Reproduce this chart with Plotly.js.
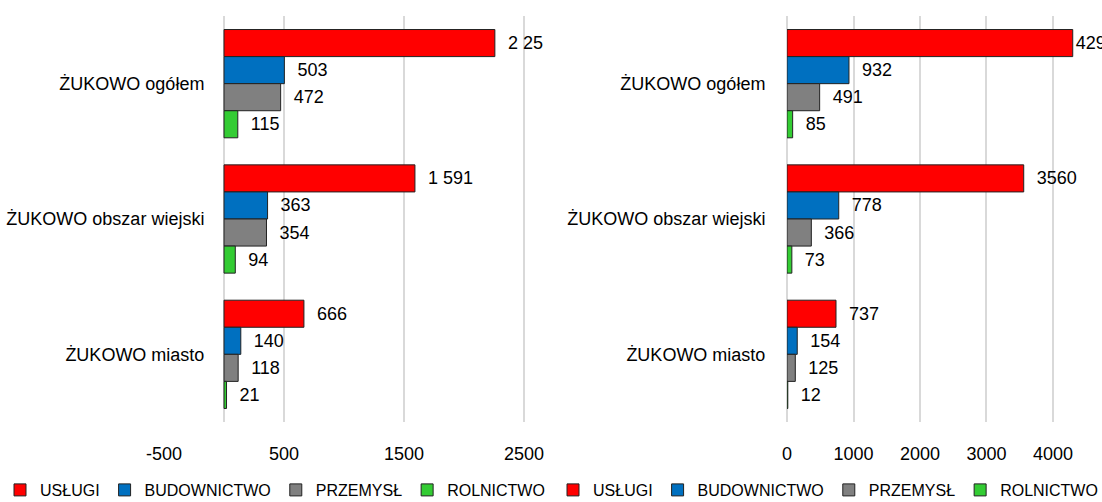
<!DOCTYPE html>
<html>
<head>
<meta charset="utf-8">
<script src="https://cdn.plot.ly/plotly-3.0.1.min.js"></script>
<style>html,body{margin:0;padding:0;background:#fff;}#chart{width:1102px;height:502px;}</style>
</head>
<body>
<div id="chart"></div>
<script>
// ---- data ----
const categories = ['ŻUKOWO ogółem', 'ŻUKOWO obszar wiejski', 'ŻUKOWO miasto'];
const seriesNames = ['USŁUGI', 'BUDOWNICTWO', 'PRZEMYSŁ', 'ROLNICTWO'];
// left chart
const uslugiLeft = [2257, 1591, 666];
const budownictwoLeft = [503, 363, 140];
const przemyslLeft = [472, 354, 118];
const rolnictwoLeft = [115, 94, 21];
// right chart
const uslugiRight = [4297, 3560, 737];
const budownictwoRight = [932, 778, 154];
const przemyslRight = [491, 366, 125];
const rolnictwoRight = [85, 73, 12];
// tick labels
const leftTickVals = [-500, 500, 1500, 2500];
const leftTickText = ['-500', '500', '1500', '2500'];
const rightTickVals = [0, 1000, 2000, 3000, 4000];
const rightTickText = ['0', '1000', '2000', '3000', '4000'];

const colors = ['#FF0000', '#0070C0', '#808080', '#33CC33'];
const FONT = "'Liberation Sans', Arial, sans-serif";
const FS = 18;
const LFS = 16;

const leftData = [uslugiLeft, budownictwoLeft, przemyslLeft, rolnictwoLeft];
const rightData = [uslugiRight, budownictwoRight, przemyslRight, rolnictwoRight];

const PAD = '\u00a0\u00a0';
const traces = [];
leftData.forEach((vals, i) => {
  traces.push({
    type: 'bar', orientation: 'h', name: seriesNames[i],
    x: vals, y: categories, xaxis: 'x', yaxis: 'y',
    marker: {color: colors[i], line: {color: '#222', width: 1}},
    texttemplate: PAD + '%{x:,}', textposition: 'outside', cliponaxis: true,
    constraintext: 'none',
    textfont: {family: FONT, size: FS, color: '#000'},
    legend: 'legend', hoverinfo: 'x+y'
  });
});
rightData.forEach((vals, i) => {
  // the longest bar's label sits tight against the bar end, as in the original
  const tpl = vals.map(v => (i === 0 && v === Math.max(...vals)) ? '%{x}' : PAD + '%{x}');
  traces.push({
    type: 'bar', orientation: 'h', name: seriesNames[i],
    x: vals, y: categories, xaxis: 'x2', yaxis: 'y2',
    marker: {color: colors[i], line: {color: '#222', width: 1}},
    texttemplate: tpl, textposition: 'outside', cliponaxis: true,
    constraintext: 'none',
    textfont: {family: FONT, size: FS, color: '#000'},
    legend: 'legend2', hoverinfo: 'x+y'
  });
});

const W = 1102, H = 502;
const yDom = [1 - 422 / H, 1 - 16 / H];
const gridCol = '#D9D9D9';

const layout = {
  width: W, height: H,
  margin: {l: 0, r: 0, t: 0, b: 0, pad: 0, autoexpand: false},
  paper_bgcolor: '#fff', plot_bgcolor: '#fff',
  font: {family: FONT, size: FS, color: '#000'},
  separators: '. ',
  barmode: 'group', bargap: 0.2, bargroupgap: 0,
  showlegend: true,
  xaxis: {
    domain: [164 / W, 543 / W], range: [-500, 2658], anchor: 'y',
    tickvals: leftTickVals, ticktext: leftTickText,
    showgrid: true, gridcolor: gridCol, gridwidth: 2,
    zeroline: true, zerolinecolor: gridCol, zerolinewidth: 2,
    showline: false, ticks: 'outside', ticklen: 15, tickcolor: 'rgba(0,0,0,0)',
    tickfont: {family: FONT, size: FS, color: '#000'}, automargin: false, fixedrange: true
  },
  yaxis: {
    domain: yDom, type: 'category', categoryorder: 'array', categoryarray: categories,
    range: [2.5, -0.5], anchor: 'free', position: 224 / W,
    showgrid: false, zeroline: false, showline: false,
    ticks: 'outside', ticklen: 16, tickcolor: 'rgba(0,0,0,0)',
    tickfont: {family: FONT, size: FS, color: '#000'}, automargin: false, fixedrange: true
  },
  xaxis2: {
    domain: [787 / W, 1], range: [0, 4737], anchor: 'y2',
    tickvals: rightTickVals, ticktext: rightTickText,
    showgrid: true, gridcolor: gridCol, gridwidth: 2,
    zeroline: true, zerolinecolor: gridCol, zerolinewidth: 2,
    showline: false, ticks: 'outside', ticklen: 15, tickcolor: 'rgba(0,0,0,0)',
    tickfont: {family: FONT, size: FS, color: '#000'}, automargin: false, fixedrange: true
  },
  yaxis2: {
    domain: yDom, type: 'category', categoryorder: 'array', categoryarray: categories,
    range: [2.5, -0.5], anchor: 'x2',
    showgrid: false, zeroline: false, showline: false,
    ticks: 'outside', ticklen: 17, tickcolor: 'rgba(0,0,0,0)',
    tickfont: {family: FONT, size: FS, color: '#000'}, automargin: false, fixedrange: true
  },
  legend: {
    orientation: 'h', x: 0, xanchor: 'left', y: 1 - 490 / H, yanchor: 'middle',
    bgcolor: 'rgba(0,0,0,0)', font: {family: FONT, size: LFS, color: '#000'},
    traceorder: 'normal', itemclick: false, itemdoubleclick: false
  },
  legend2: {
    orientation: 'h', x: 553 / W, xanchor: 'left', y: 1 - 490 / H, yanchor: 'middle',
    bgcolor: 'rgba(0,0,0,0)', font: {family: FONT, size: LFS, color: '#000'},
    traceorder: 'normal', itemclick: false, itemdoubleclick: false
  }
};

Plotly.newPlot('chart', traces, layout, {displayModeBar: false, staticPlot: true});
</script>
</body>
</html>
